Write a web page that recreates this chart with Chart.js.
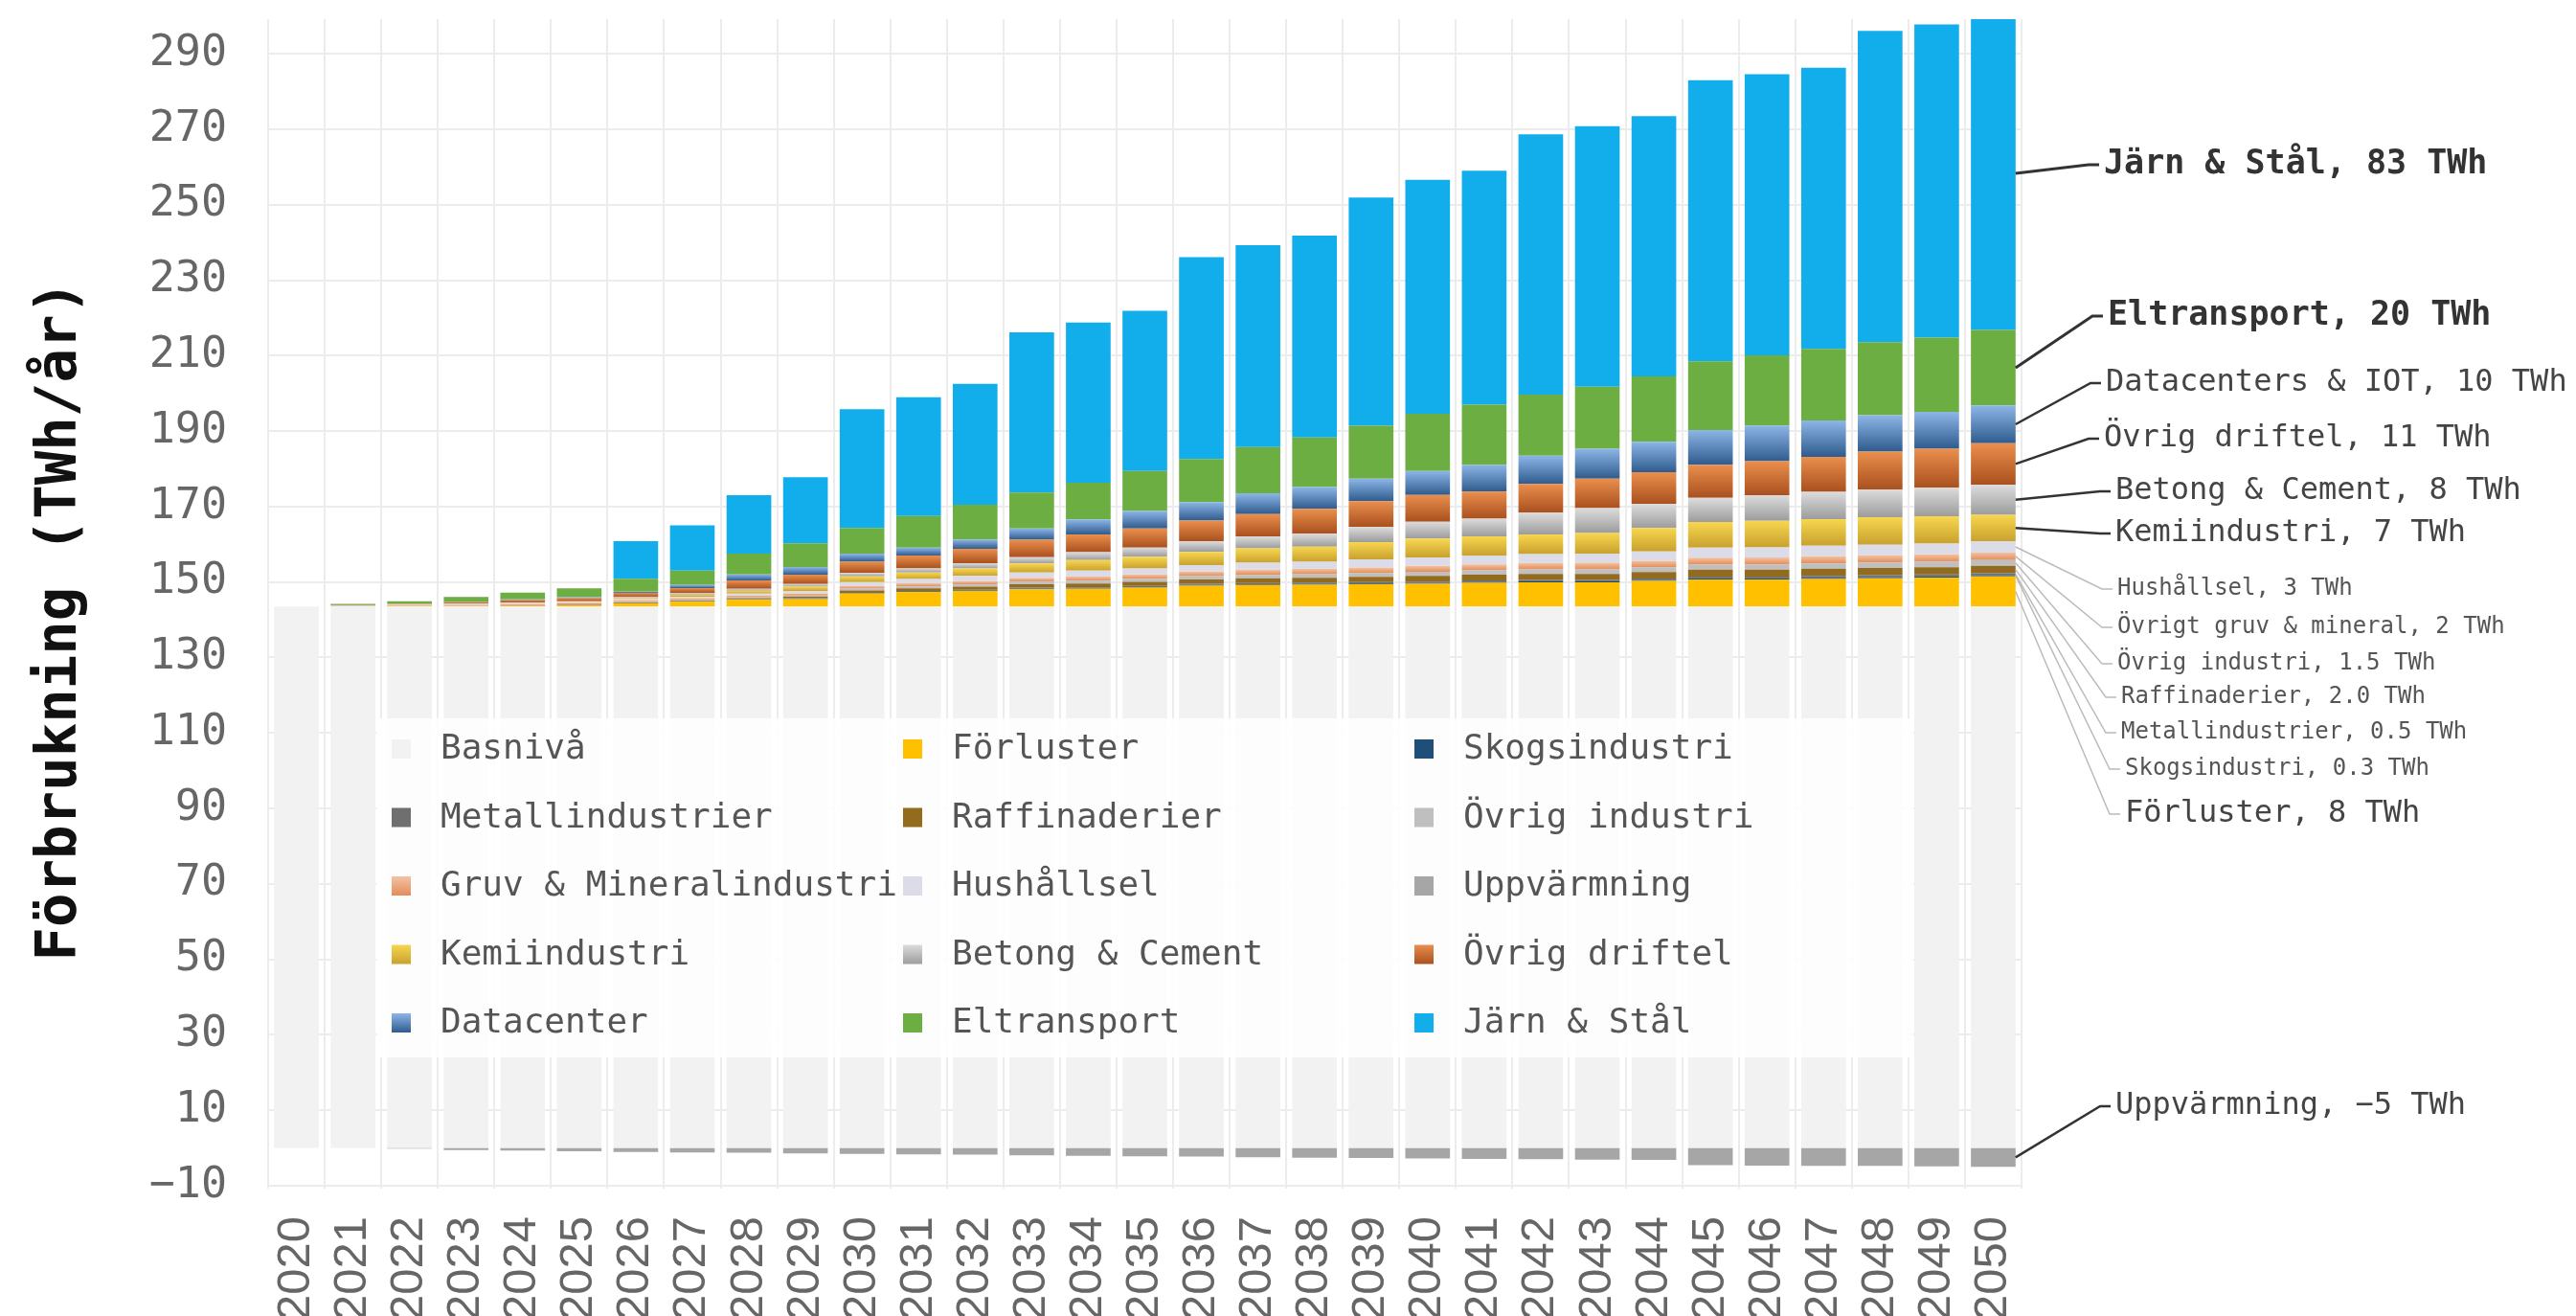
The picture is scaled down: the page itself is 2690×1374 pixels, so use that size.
<!DOCTYPE html>
<html lang="sv">
<head>
<meta charset="utf-8">
<title>Elförbrukning 2020–2050</title>
<script src="https://cdn.jsdelivr.net/npm/chart.js@4.4.1/dist/chart.umd.min.js"></script>
<style>
  html, body { margin: 0; padding: 0; background: #fff; overflow: hidden; }
  #wrap { width: 2690px; height: 1374px; }
</style>
</head>
<body>
<div id="wrap"><canvas id="chart" width="2690" height="1374"></canvas></div>
<script>
// -----------------------------------------------------------------
// DATA — TWh/år per år, läst ur bilden
// -----------------------------------------------------------------
const YEARS = ["2020","2021","2022","2023","2024","2025","2026","2027","2028","2029",
               "2030","2031","2032","2033","2034","2035","2036","2037","2038","2039",
               "2040","2041","2042","2043","2044","2045","2046","2047","2048","2049","2050"];

const Y_TICKS = [-10, 10, 30, 50, 70, 90, 110, 130, 150, 170, 190, 210, 230, 250, 270, 290];

const BASNIVA     = [143.5,143.5,143.5,143.5,143.5,143.5,143.5,143.5,143.5,143.5,143.5,143.5,143.5,143.5,143.5,143.5,
                     143.5,143.5,143.5,143.5,143.5,143.5,143.5,143.5,143.5,143.5,143.5,143.5,143.5,143.5,143.5];
const FORLUSTER   = [0, 0, 0.1, 0.1, 0.2, 0.3, 0.8, 1.3, 1.8, 2.0, 3.4, 3.8, 4.1, 4.6, 4.7, 5.0,
                     5.5, 5.7, 5.8, 5.9, 6.0, 6.3, 6.4, 6.4, 6.8, 7.2, 7.2, 7.3, 7.5, 7.7, 8.0];
const SKOG        = [0, 0, 0, 0, 0, 0, 0.05, 0.05, 0.05, 0.1, 0.1, 0.1, 0.15, 0.15, 0.15, 0.15,
                     0.2, 0.2, 0.2, 0.2, 0.2, 0.25, 0.25, 0.25, 0.25, 0.3, 0.3, 0.3, 0.3, 0.3, 0.3];
const METALL      = [0, 0, 0, 0, 0, 0.05, 0.05, 0.05, 0.1, 0.1, 0.15, 0.2, 0.2, 0.25, 0.25, 0.3,
                     0.3, 0.3, 0.35, 0.35, 0.4, 0.4, 0.4, 0.4, 0.4, 0.45, 0.45, 0.5, 0.5, 0.5, 0.5];
const RAFF        = [0, 0, 0, 0, 0.1, 0.1, 0.15, 0.2, 0.3, 0.4, 0.6, 0.7, 0.8, 0.9, 1.0, 1.1,
                     1.2, 1.3, 1.3, 1.4, 1.5, 1.5, 1.6, 1.6, 1.7, 1.8, 1.8, 1.9, 1.9, 1.9, 2.0];
const OVRIG_IND   = [0, 0.1, 0.1, 0.1, 0.1, 0.15, 0.15, 0.2, 0.25, 0.35, 0.5, 0.55, 0.6, 0.7, 0.75, 0.8,
                     0.85, 0.9, 0.95, 1.0, 1.1, 1.15, 1.2, 1.2, 1.25, 1.35, 1.35, 1.4, 1.45, 1.45, 1.5];
const GRUV        = [0, 0.1, 0.2, 0.3, 0.35, 0.4, 0.45, 0.45, 0.5, 0.55, 0.7, 0.8, 0.9, 1.0, 1.1, 1.15,
                     1.25, 1.35, 1.4, 1.5, 1.6, 1.6, 1.7, 1.75, 1.75, 1.85, 1.9, 1.95, 1.95, 2.0, 2.0];
const HUSHALL     = [0, 0.1, 0.1, 0.2, 0.25, 0.3, 0.3, 0.35, 0.4, 0.65, 1.05, 1.15, 1.35, 1.4, 1.55, 1.6,
                     1.7, 1.85, 1.9, 2.15, 2.2, 2.3, 2.35, 2.4, 2.45, 2.65, 2.7, 2.75, 2.8, 2.85, 3.0];
const UPPVARMNING = [0, 0, -0.2, -0.6, -0.7, -0.9, -1.1, -1.2, -1.3, -1.5, -1.6, -1.7, -1.8, -2.0, -2.1, -2.2,
                     -2.3, -2.5, -2.6, -2.7, -2.8, -2.9, -3.0, -3.1, -3.2, -4.6, -4.7, -4.8, -4.8, -4.9, -5.0];
const KEMI        = [0, 0, 0, 0.05, 0.1, 0.1, 0.3, 0.6, 0.8, 1.1, 1.5, 1.7, 2.0, 2.4, 2.8, 3.1,
                     3.5, 3.8, 4.0, 4.6, 5.0, 5.1, 5.2, 5.5, 6.2, 6.8, 7.0, 7.1, 7.3, 7.2, 7.0];
const BETONG      = [0, 0, 0, 0, 0, 0, 0.2, 0.4, 0.5, 0.7, 0.9, 1.1, 1.4, 1.7, 2.1, 2.4,
                     2.8, 3.2, 3.4, 4.0, 4.5, 4.7, 5.8, 6.6, 6.4, 6.4, 6.8, 7.2, 7.3, 7.6, 8.0];
const DRIFTEL     = [0, 0.1, 0.2, 0.4, 0.6, 0.8, 1.2, 1.3, 2.2, 2.5, 3.0, 3.4, 3.8, 4.6, 4.7, 5.1,
                     5.5, 5.9, 6.6, 6.8, 7.1, 7.2, 7.6, 7.8, 8.4, 8.8, 9.0, 9.3, 10.1, 10.3, 11.0];
const DATACENTER  = [0, 0, 0, 0.1, 0.2, 0.3, 0.3, 0.8, 1.6, 2.0, 2.1, 2.1, 2.5, 3.0, 4.0, 4.6,
                     4.9, 5.5, 5.8, 6.0, 6.3, 7.1, 7.5, 7.9, 8.1, 9.2, 9.5, 9.6, 9.6, 9.8, 10.0];
const ELTRANSPORT = [0, 0.3, 0.7, 1.3, 1.8, 2.3, 3.4, 3.8, 5.5, 6.3, 6.8, 8.4, 9.2, 9.5, 9.7, 10.6,
                     11.4, 12.3, 13.1, 14.0, 15.2, 15.9, 16.2, 16.5, 17.3, 18.2, 18.6, 19.0, 19.4, 19.7, 20.0];
const JARN_STAL   = [0, 0, 0, 0, 0, 0, 10.0, 12.0, 15.5, 17.5, 31.5, 31.5, 32.0, 42.5, 42.5, 42.5,
                     53.5, 53.5, 53.5, 60.5, 62.0, 62.0, 69.0, 69.0, 69.0, 74.5, 74.5, 74.5, 82.5, 83.0, 83.0];

// -----------------------------------------------------------------
// SERIES — legend order = stack order (bottom → top)
// -----------------------------------------------------------------
const SERIES = [
  { label: "Basnivå",                data: BASNIVA,     color: "#F2F2F2" },
  { label: "Förluster",              data: FORLUSTER,   color: "#FFC000" },
  { label: "Skogsindustri",          data: SKOG,        color: "#1F4E79" },
  { label: "Metallindustrier",       data: METALL,      color: "#6F6F6F" },
  { label: "Raffinaderier",          data: RAFF,        color: "#936B1F" },
  { label: "Övrig industri",         data: OVRIG_IND,   color: "#BFBFBF" },
  { label: "Gruv & Mineralindustri", data: GRUV,        color: "#EC9C6C", grad: ["#F2C3A2", "#E38C5A"] },
  { label: "Hushållsel",             data: HUSHALL,     color: "#DCDCE8" },
  { label: "Uppvärmning",            data: UPPVARMNING, color: "#A6A6A6" },
  { label: "Kemiindustri",           data: KEMI,        color: "#E6BE3E", grad: ["#F7D64F", "#C9A12E"] },
  { label: "Betong & Cement",        data: BETONG,      color: "#BDBDBD", grad: ["#DCDCDC", "#9C9C9C"] },
  { label: "Övrig driftel",          data: DRIFTEL,     color: "#CF6E35", grad: ["#EA8F4D", "#A9501E"] },
  { label: "Datacenter",             data: DATACENTER,  color: "#5A86BA", grad: ["#8DB6E6", "#2F5B8E"] },
  { label: "Eltransport",            data: ELTRANSPORT, color: "#6DAE43" },
  { label: "Järn & Stål",            data: JARN_STAL,   color: "#11AEEB" },
];

// Callouts at the 2050 bar (series index, text, label anchor, style)
const CALLOUTS = [
  { ds: 14, text: "Järn & Stål, 83 TWh",          x: 2197, y: 172,  size: 35, bold: true, color: "#333", line: "#333", lw: 3 },
  { ds: 13, text: "Eltransport, 20 TWh",          x: 2201, y: 330,  size: 35, bold: true, color: "#333", line: "#333", lw: 3 },
  { ds: 12, text: "Datacenters & IOT, 10 TWh",    x: 2199, y: 400,  size: 32, color: "#444", line: "#333", lw: 2.5 },
  { ds: 11, text: "Övrig driftel, 11 TWh",        x: 2197, y: 458,  size: 32, color: "#444", line: "#333", lw: 2.5 },
  { ds: 10, text: "Betong & Cement, 8 TWh",       x: 2209, y: 513,  size: 32, color: "#444", line: "#333", lw: 2.5 },
  { ds: 9,  text: "Kemiindustri, 7 TWh",          x: 2209, y: 557,  size: 32, color: "#444", line: "#333", lw: 2.5 },
  { ds: 7,  text: "Hushållsel, 3 TWh",            x: 2211, y: 615,  size: 24, color: "#555", line: "#BBB", lw: 1.5 },
  { ds: 6,  text: "Övrigt gruv & mineral, 2 TWh", x: 2211, y: 655,  size: 24, color: "#555", line: "#BBB", lw: 1.5 },
  { ds: 5,  text: "Övrig industri, 1.5 TWh",      x: 2211, y: 693,  size: 24, color: "#555", line: "#BBB", lw: 1.5 },
  { ds: 4,  text: "Raffinaderier, 2.0 TWh",       x: 2215, y: 728,  size: 24, color: "#555", line: "#BBB", lw: 1.5 },
  { ds: 3,  text: "Metallindustrier, 0.5 TWh",    x: 2215, y: 765,  size: 24, color: "#555", line: "#BBB", lw: 1.5 },
  { ds: 2,  text: "Skogsindustri, 0.3 TWh",       x: 2219, y: 803,  size: 24, color: "#555", line: "#BBB", lw: 1.5 },
  { ds: 1,  text: "Förluster, 8 TWh",             x: 2219, y: 850,  size: 32, color: "#444", line: "#BBB", lw: 1.5 },
  { ds: 8,  text: "Uppvärmning, −5 TWh",          x: 2209, y: 1155, size: 32, color: "#444", line: "#333", lw: 2.5 },
];

// Legend box layout (3 columns, row-major)
const LEGEND = { x: 393, y: 750, w: 1605, h: 354, colX: [460, 994, 1528], row0: 782, rowDy: 71.5 };

const MONO = '"DejaVu Sans Mono", monospace';

// -----------------------------------------------------------------
// HELPERS
// -----------------------------------------------------------------
// value range [from, to] of one stacked segment
const stackRange = (ds, i) => {
  const v = SERIES[ds].data[i];
  let base = 0;
  for (let d = 0; d < ds; d++) {
    const w = SERIES[d].data[i];
    if ((v >= 0 && w > 0) || (v < 0 && w < 0)) base += w;
  }
  return [base, base + v];
};

const segmentFill = (ctx) => {
  const s = SERIES[ctx.datasetIndex];
  if (!s.grad || ctx.type !== "data") return s.color;
  const y = ctx.chart.scales.y;
  if (!y) return s.color;
  const [lo, hi] = stackRange(ctx.datasetIndex, ctx.dataIndex);
  const top = y.getPixelForValue(hi), bot = y.getPixelForValue(lo);
  if (!isFinite(top) || !isFinite(bot) || Math.abs(bot - top) < 0.5) return s.color;
  const g = ctx.chart.ctx.createLinearGradient(0, top, 0, bot);
  g.addColorStop(0, s.grad[0]);
  g.addColorStop(1, s.grad[1]);
  return g;
};

// -----------------------------------------------------------------
// PLUGINS — boxed legend + callouts
// -----------------------------------------------------------------
const boxLegend = {
  id: "boxLegend",
  afterDatasetsDraw(chart) {
    const c = chart.ctx;
    c.save();
    c.fillStyle = "rgba(255,255,255,0.86)";
    c.fillRect(LEGEND.x, LEGEND.y, LEGEND.w, LEGEND.h);
    c.font = `36px ${MONO}`;
    c.textBaseline = "middle";
    c.textAlign = "left";
    SERIES.forEach((s, k) => {
      const tx = LEGEND.colX[k % 3];
      const ty = LEGEND.row0 + Math.floor(k / 3) * LEGEND.rowDy;
      const mx = tx - 51, my = ty - 10;
      if (s.grad) {
        const g = c.createLinearGradient(0, my, 0, my + 20);
        g.addColorStop(0, s.grad[0]); g.addColorStop(1, s.grad[1]);
        c.fillStyle = g;
      } else {
        c.fillStyle = s.color;
      }
      c.fillRect(mx, my, 20, 20);
      c.fillStyle = "#555";
      c.fillText(s.label, tx, ty + 1);
    });
    c.restore();
  },
};

const callouts = {
  id: "callouts",
  afterDatasetsDraw(chart) {
    const c = chart.ctx, y = chart.scales.y;
    const last = YEARS.length - 1;
    c.save();
    c.textBaseline = "middle";
    c.textAlign = "left";
    CALLOUTS.forEach((o) => {
      const bar = chart.getDatasetMeta(o.ds).data[last];
      const [lo, hi] = stackRange(o.ds, last);
      const x0 = bar.x + bar.width / 2;
      const y0 = y.getPixelForValue((lo + hi) / 2);
      c.strokeStyle = o.line;
      c.lineWidth = o.lw;
      c.beginPath();
      c.moveTo(x0, y0);
      c.lineTo(o.x - 16, o.y);
      c.lineTo(o.x - 5, o.y);
      c.stroke();
      c.font = `${o.bold ? "bold " : ""}${o.size}px ${MONO}`;
      c.fillStyle = o.color;
      c.fillText(o.text, o.x, o.y);
    });
    c.restore();
  },
};

// -----------------------------------------------------------------
// CHART
// -----------------------------------------------------------------
new Chart(document.getElementById("chart"), {
  type: "bar",
  data: {
    labels: YEARS,
    datasets: SERIES.map((s) => ({
      label: s.label,
      data: s.data,
      backgroundColor: segmentFill,
      borderWidth: 0,
      barPercentage: 0.79,
      categoryPercentage: 1.0,
    })),
  },
  options: {
    responsive: false,
    devicePixelRatio: 1,
    animation: false,
    layout: { padding: { left: 0, right: 579, top: 20, bottom: 0 } },
    plugins: {
      legend: { display: false },
      tooltip: { enabled: false },
    },
    scales: {
      x: {
        stacked: true,
        border: { display: false },
        grid: { color: "#ECECEC", lineWidth: 2, offset: true, drawTicks: false },
        ticks: {
          color: "#666",
          font: { family: '"Liberation Sans", Arial, sans-serif', size: 49 },
          minRotation: 90,
          maxRotation: 90,
          autoSkip: false,
          padding: 29,
        },
        afterFit: (s) => { s.height = 133; },
      },
      y: {
        stacked: true,
        min: -10.8,
        max: 299.2,
        border: { display: false },
        grid: { color: "#ECECEC", lineWidth: 2, drawTicks: false },
        afterBuildTicks: (s) => { s.ticks = Y_TICKS.map((v) => ({ value: v })); },
        ticks: {
          color: "#666",
          font: { family: MONO, size: 45 },
          padding: 43,
          callback: (v) => String(v).replace("-", "−"),
        },
        title: {
          display: true,
          text: "Förbrukning (TWh/år) ",
          color: "#111",
          font: { family: MONO, size: 59, weight: "bold" },
          padding: { top: 28, bottom: 0 },
        },
        // fixed axis width; drop the label half-height padding so the plot starts at the top
        afterFit: (s) => { s.width = 280; s.paddingTop = 0; s.paddingBottom = 0; },
      },
    },
  },
  plugins: [boxLegend, callouts],
});
</script>
</body>
</html>
